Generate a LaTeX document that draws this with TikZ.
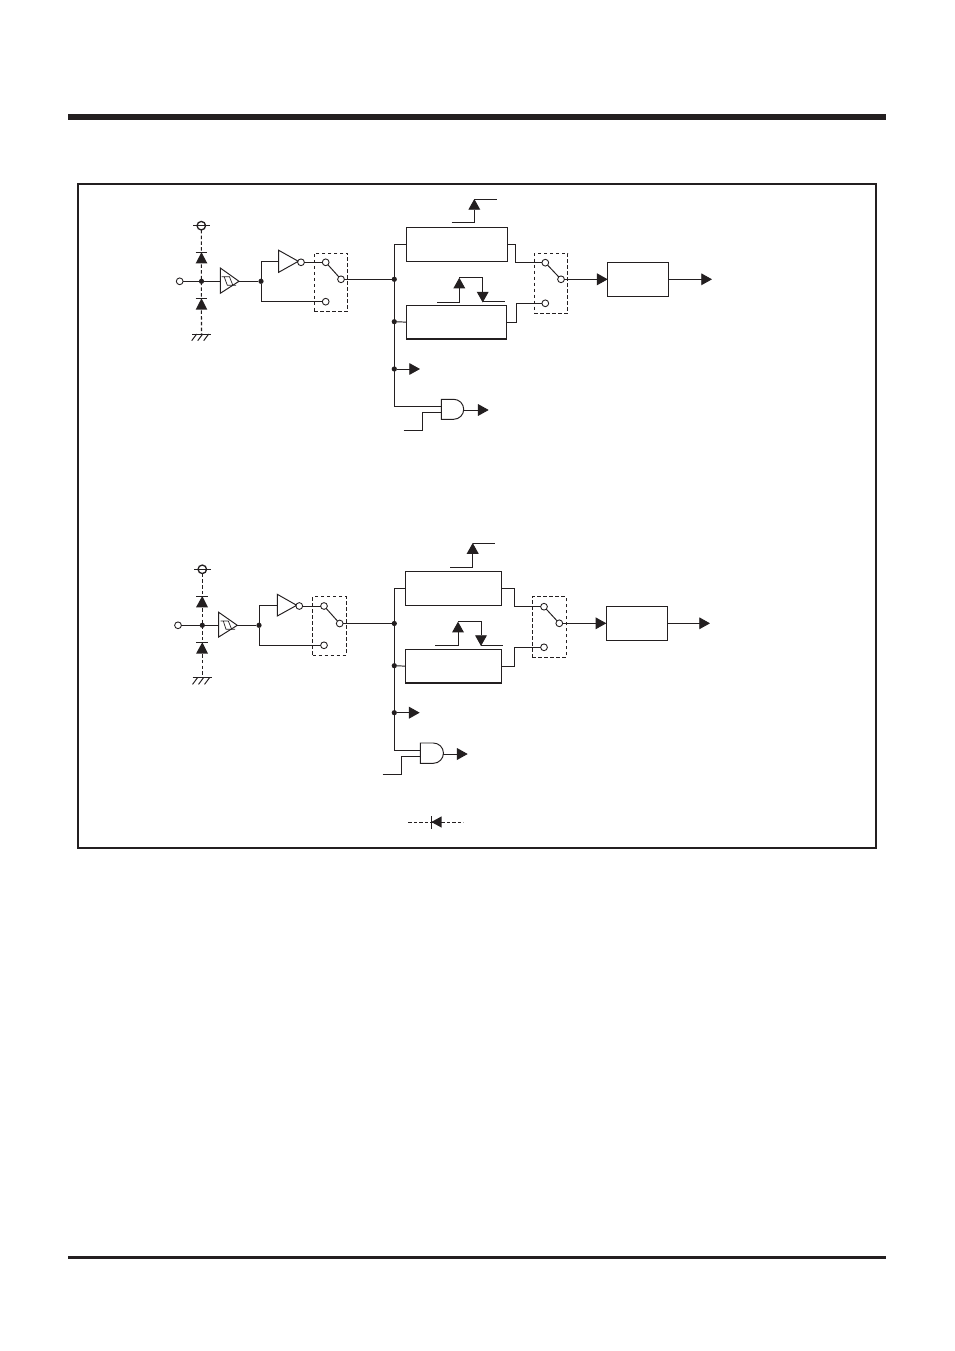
\documentclass[tikz,border=0pt]{standalone}
\usepackage{tikz}
\usetikzlibrary{arrows.meta}
\definecolor{inkblack}{HTML}{231F20}
\tikzset{
  sig/.style={line width=0.55pt},
  bigtip/.style={-{Triangle[length=0.215cm,width=0.235cm]}},
  blockbox/.style={draw,line width=0.7pt,inner sep=0pt,outer sep=0pt},
  swbox/.style={draw,line width=0.55pt,dash pattern=on 0.07cm off 0.05cm,inner sep=0pt,outer sep=0pt},
  contact/.style={circle,draw,line width=0.5pt,fill=white,inner sep=0pt,outer sep=0pt,minimum size=0.135cm},
  rail/.style={circle,draw,line width=0.75pt,inner sep=0pt,outer sep=0pt,minimum size=0.17cm},
  junction/.style={circle,fill,inner sep=0pt,outer sep=0pt,minimum size=0.105cm},
  protect/.style={line width=0.6pt,dash pattern=on 0.07cm off 0.045cm},
  gate/.style={line width=0.55pt}
}
\begin{document}
\begin{tikzpicture}[x=0.02cm,y=-0.02cm,color=inkblack]
\useasboundingbox (0,0) rectangle (954,1351);
% page rules and frame
\fill (68,114) rectangle (886,120.5);
\fill (68,1256.3) rectangle (886,1259.3);
\draw[line width=1pt] (78,184) rectangle (876,848);

% upper circuit: input pin
\node [rail] (vcca) at (201.3,225.7) {};
\coordinate (gnda) at (201.5,334);
\node [contact] (pina) at (179.7,281.3) {};
\node [junction] (pinjoina) at (201.5,281.3) {};
\draw[protect] (vcca) -- (gnda);
\draw[sig] (193.3,225.7) -- (210,225.7);
\fill (195.7,263.3) -- (207.3,263.3) -- (201.5,252.3) -- cycle;
\draw[sig] (195.7,252.3) -- (207.3,252.3);
\fill (195.7,309.7) -- (207.3,309.7) -- (201.5,298.3) -- cycle;
\draw[sig] (195.7,298.3) -- (207.3,298.3);
\draw[sig] (192.3,334) -- (211,334);
\draw[gate] (196.7,334) -- (191.7,340.7);
\draw[gate] (202.7,334) -- (197.7,340.7);
\draw[gate] (208.7,334) -- (203.7,340.7);
% upper circuit: schmitt buffer and inverter
\draw[gate] (220.3,268) -- (239,281.3) -- (220.3,293.3) -- cycle;
\draw[gate,line width=0.4pt] (221.5,276.8) -- (229.5,276.8) -- (232.8,285.2) -- (236,285.2);
\draw[gate,line width=0.4pt] (224.2,276.8) -- (227.3,285.2) -- (232.8,285.2);
\coordinate (bufina) at (220.3,281.3);
\coordinate (bufouta) at (239,281.3);
\node [junction] (splita) at (261,281.3) {};
\draw[sig] (pina) -- (bufina);
\draw[sig] (bufouta) -- (splita);
\draw[gate] (278.7,250.3) -- (298.3,261.3) -- (278.7,272.3) -- cycle;
\coordinate (invina) at (278.7,261.3);
\node [contact] (bubblea) at (301,262.3) {};
\node [contact] (swupa) at (325.7,262.3) {};
\node [contact] (swlowa) at (325.7,301.7) {};
\node [contact] (swouta) at (341,279.3) {};
\node [swbox,minimum width=0.668cm,minimum height=1.166cm] (swboxa) at (331,282.15) {};
\draw[sig] (splita) |- (invina);
\draw[sig] (splita) |- (swlowa);
\draw[sig] (bubblea) -- (swupa);
\draw[gate] (swupa) -- (swouta);

% upper circuit: bus and blocks
\node [junction] (busa) at (394.3,279.3) {};
\node [junction] (busb) at (394.3,321.7) {};
\node [junction] (busc) at (394.3,369) {};
\coordinate (busend) at (394.3,406);
\coordinate (busctip) at (420,369);
\node [blockbox,minimum width=2.012cm,minimum height=0.68cm] (uppera) at (457,244.3) {};
\node [blockbox,minimum width=1.992cm,minimum height=0.674cm] (lowera) at (456.5,322.15) {};
\node [blockbox,minimum width=1.22cm,minimum height=0.68cm] (outa) at (638.2,279.3) {};
\draw[sig] (swouta) -- (busa);
\draw[sig] (uppera.west) -| (busend) -- (441.3,406);
\draw[sig] (busb) -- (lowera.west);
\draw[sig,bigtip] (busc) -- (busctip);
% upper circuit: signals over the blocks
\coordinate (clkina) at (451.7,222.7);
\coordinate (clktipa) at (474.3,199);
\coordinate (clkenda) at (496.7,199);
\draw[sig,bigtip] (clkina) -| (clktipa);
\draw[sig] (clktipa) -- (clkenda);
\coordinate (loopina) at (437.3,302);
\coordinate (loopupa) at (459.3,277.7);
\coordinate (looptopa) at (482.7,277.7);
\coordinate (loopdowna) at (482.7,302.5);
\coordinate (loopenda) at (505,301.5);
\draw[sig,bigtip] (loopina) -| (loopupa);
\draw[sig,bigtip] (loopupa) -- (looptopa) -- (loopdowna);
\draw[sig] (482.7,301.5) -- (loopenda);
% upper circuit: output switch
\node [contact] (sw2upa) at (545.3,262.7) {};
\node [contact] (sw2lowa) at (545.3,303.3) {};
\node [contact] (sw2outa) at (561,279.3) {};
\node [swbox,minimum width=0.668cm,minimum height=1.2cm] (sw2boxa) at (551,283.3) {};
\draw[sig] (uppera.east) -- ++(8.4,0) |- (sw2upa);
\draw[sig] (lowera.east) -- ++(9.8,0) |- (sw2lowa);
\draw[gate] (sw2upa) -- (sw2outa);
\draw[sig,bigtip] (sw2outa) -- (outa.west);
\coordinate (outtipa) at (712,279.3);
\draw[sig,bigtip] (outa.east) -- (outtipa);
% upper circuit: and gate
\draw[gate] (441.3,399.3) -- (453.7,399.3) arc[start angle=90,end angle=-90,radius=0.2cm] -- (441.3,419.3) -- cycle;
\coordinate (andouta) at (464,410);
\coordinate (andtipa) at (488.7,410);
\coordinate (enina) at (403.7,430.7);
\draw[sig,bigtip] (andouta) -- (andtipa);
\draw[sig] (enina) -- (422,430.7) |- (441.3,412.3);

% lower circuit: input pin
\node [rail] (vccb) at (202.3,569.3) {};
\coordinate (gndb) at (202.3,677.7);
\node [contact] (pinb) at (178,625.3) {};
\node [junction] (pinjoinb) at (202.3,625.3) {};
\draw[protect] (vccb) -- (gndb);
\draw[sig] (194.3,569.3) -- (210.7,569.3);
\fill (196,607.3) -- (208,607.3) -- (202.3,596) -- cycle;
\draw[sig] (196,596) -- (208,596);
\fill (196,653.7) -- (208,653.7) -- (202.3,642.3) -- cycle;
\draw[sig] (196,642.3) -- (208,642.3);
\draw[sig] (192.7,677.7) -- (211.7,677.7);
\draw[gate] (197.5,677.7) -- (192.5,684.4);
\draw[gate] (203.5,677.7) -- (198.5,684.4);
\draw[gate] (209.5,677.7) -- (204.5,684.4);
% lower circuit: schmitt buffer and inverter
\draw[gate] (218.7,612.3) -- (237.3,625.3) -- (218.7,637) -- cycle;
\draw[gate,line width=0.4pt] (220.7,621) -- (228.3,621) -- (231.7,629.3) -- (235,629.3);
\draw[gate,line width=0.4pt] (223.3,621) -- (226,629.3) -- (231.7,629.3);
\coordinate (bufinb) at (218.7,625.3);
\coordinate (bufoutb) at (237.3,625.3);
\node [junction] (splitb) at (259,625.3) {};
\draw[sig] (pinb) -- (bufinb);
\draw[sig] (bufoutb) -- (splitb);
\draw[gate] (277.3,594.3) -- (296.7,605.3) -- (277.3,616) -- cycle;
\coordinate (invinb) at (277.3,605.3);
\node [contact] (bubbleb) at (299.3,606) {};
\node [contact] (swupb) at (324,606) {};
\node [contact] (swlowb) at (324,645.3) {};
\node [contact] (swoutb) at (339.7,623.5) {};
\node [swbox,minimum width=0.672cm,minimum height=1.166cm] (swboxb) at (329.5,625.85) {};
\draw[sig] (splitb) |- (invinb);
\draw[sig] (splitb) |- (swlowb);
\draw[sig] (bubbleb) -- (swupb);
\draw[gate] (swupb) -- (swoutb);

% lower circuit: bus and blocks
\node [junction] (busd) at (394.3,623.5) {};
\node [junction] (buse) at (394.3,665.7) {};
\node [junction] (busf) at (394.3,712.7) {};
\coordinate (busendb) at (394.3,750);
\coordinate (busftip) at (419.7,712.7);
\node [blockbox,minimum width=1.928cm,minimum height=0.68cm] (upperb) at (453.5,588.3) {};
\node [blockbox,minimum width=1.92cm,minimum height=0.674cm] (lowerb) at (453.7,666.15) {};
\node [blockbox,minimum width=1.22cm,minimum height=0.68cm] (outb) at (636.8,623.3) {};
\draw[sig] (swoutb) -- (busd);
\draw[sig] (upperb.west) -| (busendb) -- (420.3,750);
\draw[sig] (buse) -- (lowerb.west);
\draw[sig,bigtip] (busf) -- (busftip);
% lower circuit: signals over the blocks
\coordinate (clkinb) at (450,567);
\coordinate (clktipb) at (472.7,543);
\coordinate (clkendb) at (495.3,543);
\draw[sig,bigtip] (clkinb) -| (clktipb);
\draw[sig] (clktipb) -- (clkendb);
\coordinate (loopinb) at (435.3,645.3);
\coordinate (loopupb) at (458,621.7);
\coordinate (looptopb) at (481,621.7);
\coordinate (loopdownb) at (481,646);
\coordinate (loopendb) at (503.3,645.3);
\draw[sig,bigtip] (loopinb) -| (loopupb);
\draw[sig,bigtip] (loopupb) -- (looptopb) -- (loopdownb);
\draw[sig] (481,645.3) -- (loopendb);
% lower circuit: output switch
\node [contact] (sw2upb) at (544,606.7) {};
\node [contact] (sw2lowb) at (544,647.3) {};
\node [contact] (sw2outb) at (559.3,623.3) {};
\node [swbox,minimum width=0.68cm,minimum height=1.212cm] (sw2boxb) at (549.3,627) {};
\draw[sig] (upperb.east) -- ++(12.3,0) |- (sw2upb);
\draw[sig] (lowerb.east) -- ++(12.6,0) |- (sw2lowb);
\draw[gate] (sw2upb) -- (sw2outb);
\draw[sig,bigtip] (sw2outb) -- (outb.west);
\coordinate (outtipb) at (710,623.3);
\draw[sig,bigtip] (outb.east) -- (outtipb);
% lower circuit: and gate
\draw[gate] (420.3,743) -- (433.3,743) arc[start angle=90,end angle=-90,radius=0.203cm] -- (420.3,763.3) -- cycle;
\coordinate (andoutb) at (443.4,754);
\coordinate (andtipb) at (467.7,754);
\coordinate (eninb) at (382.7,774.3);
\draw[sig,bigtip] (andoutb) -- (andtipb);
\draw[sig] (eninb) -- (401,774.3) |- (420.3,756.3);

% legend diode
\coordinate (legleft) at (408.3,822);
\coordinate (legright) at (463.3,822);
\draw[line width=0.5pt,dash pattern=on 0.07cm off 0.04cm] (legleft) -- (legright);
\fill (431.3,822) -- (441.7,816.3) -- (441.7,827.7) -- cycle;
\draw[line width=0.8pt] (431.3,816.3) -- (431.3,828.7);
\end{tikzpicture}
\end{document}
